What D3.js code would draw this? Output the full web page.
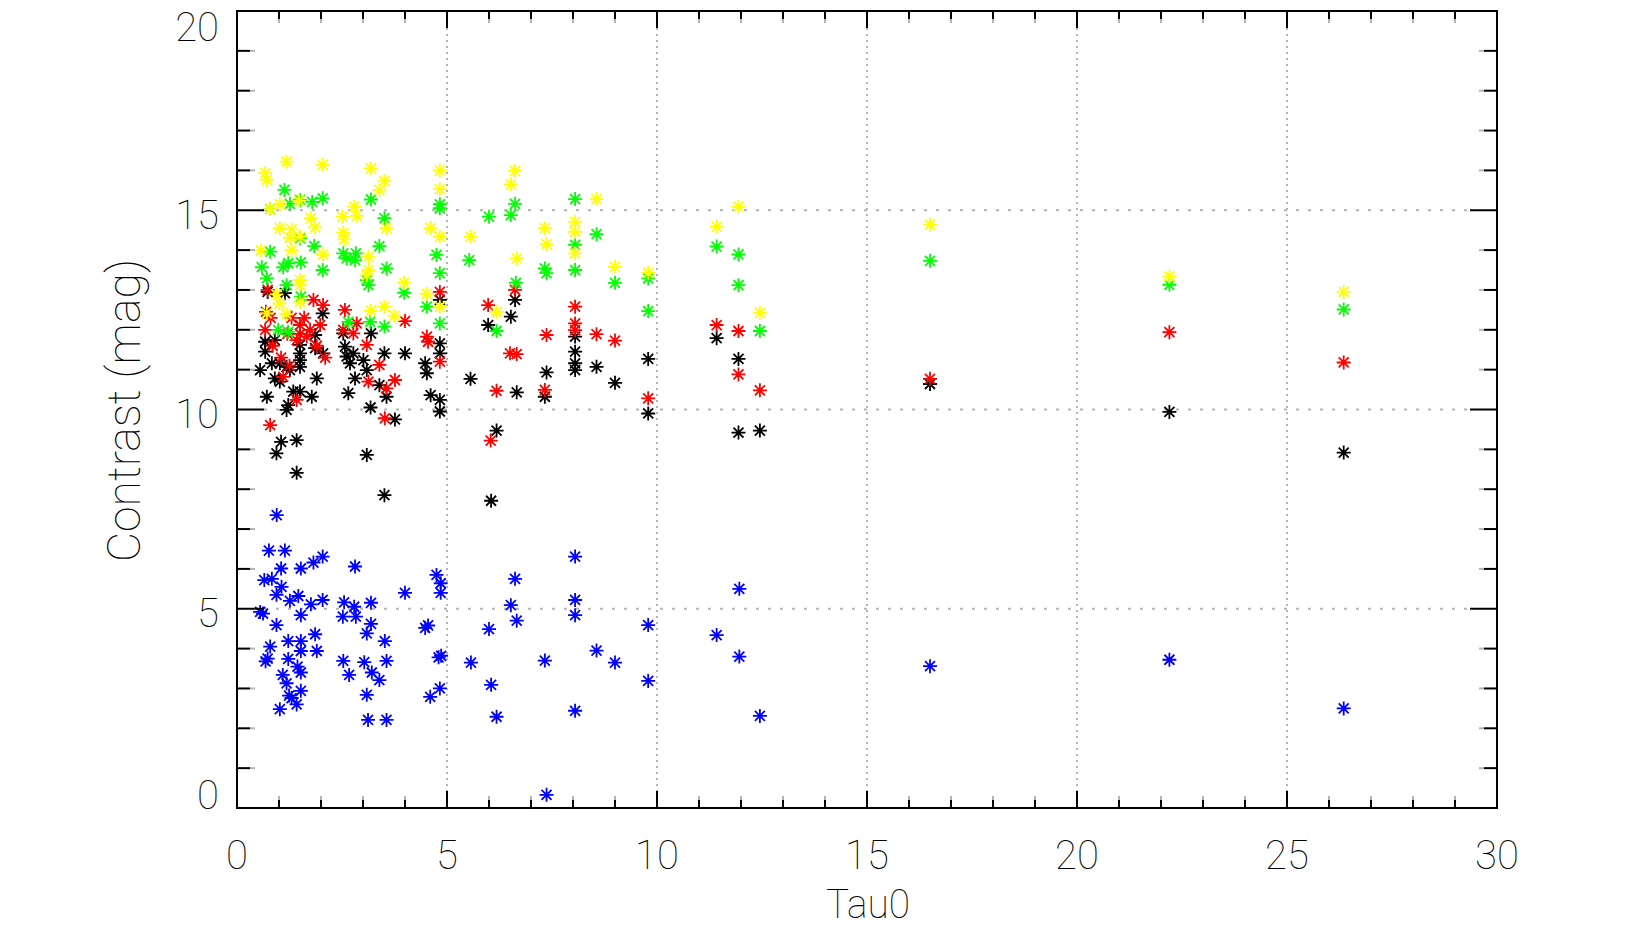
<!DOCTYPE html>
<html>
<head>
<meta charset="utf-8">
<script src="https://cdn.jsdelivr.net/npm/d3@7/dist/d3.min.js"></script>
<style>
  html, body { margin: 0; padding: 0; background: #fff; }
  svg { display: block; }
  .lbl { font-family: Roboto, "Liberation Sans", sans-serif; font-weight: 100; fill: #000; }
</style>
</head>
<body>
<svg id="chart" width="1628" height="928"></svg>
<script>
// ---------------- data (Tau0, Contrast) per series ----------------
const xTickLabels = ["0", "5", "10", "15", "20", "25", "30"];
const yTickLabels = ["0", "5", "10", "15", "20"];
const xTitle = "Tau0";
const yTitle = "Contrast (mag)";

const blackPts = [
  [0.55,10.99],[0.67,11.7],[0.67,11.45],[0.71,10.32],[0.73,12.95],[0.83,11.16],[0.9,11.74],[0.9,10.78],
  [0.94,8.9],[1.02,11.16],[1.02,10.7],[1.05,9.19],[1.14,12.92],[1.18,11.07],[1.18,9.99],[1.22,10.11],
  [1.26,10.99],[1.34,10.45],[1.42,9.23],[1.42,8.41],[1.5,11.62],[1.5,11.41],[1.5,11.24],[1.5,11.07],
  [1.5,10.45],[1.78,10.32],[1.86,11.87],[1.86,11.54],[1.9,10.78],[2.04,12.41],[2.05,11.41],[2.53,11.91],
  [2.57,11.58],[2.61,11.33],[2.65,10.41],[2.69,11.16],[2.77,11.41],[2.81,10.78],[3.01,11.24],[3.09,10.99],
  [3.09,8.86],[3.18,10.05],[3.19,11.91],[3.39,10.61],[3.51,11.41],[3.51,7.85],[3.56,10.32],[3.76,9.75],
  [4.0,11.41],[4.48,11.16],[4.52,10.91],[4.61,10.36],[4.83,12.75],[4.83,11.66],[4.83,11.41],[4.83,10.24],
  [4.83,9.95],[5.56,10.77],[5.98,12.12],[6.05,7.71],[6.18,9.47],[6.52,12.33],[6.62,12.75],[6.66,10.43],
  [7.33,10.32],[7.37,10.93],[8.05,11.83],[8.05,11.45],[8.05,11.16],[8.05,10.99],[8.56,11.07],[9.0,10.67],
  [9.79,11.27],[9.79,9.90],[11.42,11.79],[11.94,11.27],[11.94,9.42],[12.45,9.47],[16.5,10.64],[22.2,9.94],
  [26.35,8.92]
];
const redPts = [
  [0.67,12.0],[0.69,12.45],[0.73,13.0],[0.79,9.61],[0.8,12.3],[0.85,11.6],[1.05,11.3],[1.1,10.82],
  [1.2,11.9],[1.25,11.1],[1.3,12.3],[1.42,10.24],[1.42,11.74],[1.5,12.12],[1.5,11.9],[1.6,12.3],
  [1.66,11.83],[1.74,12.0],[1.82,12.75],[1.9,11.6],[1.98,12.12],[2.05,12.62],[2.1,11.3],[2.53,12.0],
  [2.57,12.5],[2.77,11.91],[2.85,12.16],[3.09,11.62],[3.13,10.7],[3.39,11.12],[3.52,9.78],[3.56,10.53],
  [3.76,10.74],[4.0,12.22],[4.52,11.83],[4.55,11.7],[4.83,12.95],[4.83,11.2],[5.98,12.62],[6.04,9.22],
  [6.18,10.47],[6.5,11.41],[6.62,13.0],[6.66,11.39],[7.33,10.49],[7.37,11.87],[8.05,12.58],[8.05,12.16],
  [8.05,11.99],[8.56,11.89],[9.0,11.73],[9.79,10.28],[11.42,12.12],[11.94,11.97],[11.94,10.88],[12.45,10.48],
  [16.5,10.77],[22.2,11.94],[26.35,11.18]
];
const greenPts = [
  [0.59,13.57],[0.71,13.29],[0.79,15.03],[0.79,13.96],[0.98,12.0],[1.1,13.57],[1.13,15.51],[1.18,13.12],
  [1.22,13.67],[1.22,11.95],[1.26,15.16],[1.5,15.26],[1.5,14.3],[1.52,13.69],[1.52,12.83],[1.79,15.21],
  [1.84,14.1],[2.04,15.3],[2.04,13.5],[2.53,13.92],[2.61,13.79],[2.65,12.2],[2.81,13.75],[2.83,13.92],
  [3.09,13.25],[3.13,13.12],[3.17,12.2],[3.19,15.27],[3.39,14.1],[3.51,14.8],[3.51,12.08],[3.56,13.54],
  [3.98,12.93],[4.52,12.58],[4.75,13.88],[4.83,15.05],[4.83,15.15],[4.83,13.42],[4.83,12.16],[5.53,13.75],
  [6.0,14.84],[6.18,11.97],[6.52,14.88],[6.62,15.16],[6.64,13.18],[7.33,13.54],[7.37,13.42],[8.05,15.28],
  [8.05,14.13],[8.05,13.5],[8.56,14.40],[9.0,13.18],[9.79,13.29],[9.79,12.47],[11.42,14.09],[11.94,13.89],
  [11.94,13.12],[12.45,11.97],[16.5,13.73],[22.2,13.13],[26.35,12.51]
];
const yellowPts = [
  [0.57,13.99],[0.67,15.93],[0.71,15.76],[0.71,12.41],[0.79,15.03],[0.94,12.89],[1.01,12.66],[1.02,15.15],
  [1.02,14.55],[1.18,16.22],[1.18,12.39],[1.26,14.31],[1.30,14.52],[1.30,14.0],[1.48,15.24],[1.5,14.34],
  [1.5,13.25],[1.5,13.12],[1.5,12.7],[1.76,14.8],[1.86,14.57],[2.04,16.14],[2.05,13.89],[2.51,14.84],
  [2.53,14.44],[2.55,14.27],[2.79,15.09],[2.85,14.86],[3.09,13.37],[3.13,13.83],[3.13,13.5],[3.19,16.05],
  [3.19,12.48],[3.39,15.51],[3.51,15.73],[3.51,12.58],[3.56,14.55],[3.75,12.35],[3.98,13.18],[4.52,12.9],
  [4.61,14.55],[4.83,16.0],[4.83,15.53],[4.83,14.34],[4.83,12.58],[5.56,14.34],[6.18,12.45],[6.52,15.65],
  [6.62,15.99],[6.66,13.79],[7.33,14.55],[7.37,14.15],[8.05,14.71],[8.05,14.46],[8.05,13.92],[8.56,15.28],
  [9.0,13.58],[9.79,13.43],[11.42,14.59],[11.94,15.09],[12.45,12.43],[16.5,14.64],[22.2,13.34],[26.35,12.95]
];
const bluePts = [
  [0.945,7.35],[0.76,6.46],[1.14,6.46],[2.04,6.31],[1.82,6.16],[1.05,6.01],[1.52,6.01],[2.81,6.06],
  [0.65,5.72],[0.83,5.75],[1.06,5.55],[0.94,5.35],[1.46,5.32],[1.26,5.20],[1.76,5.11],[2.04,5.22],
  [4.75,5.85],[4.85,5.64],[4.85,5.40],[4.0,5.40],[2.55,5.16],[2.79,5.05],[3.19,5.15],[0.55,4.92],
  [0.62,4.88],[1.52,4.84],[2.52,4.80],[2.83,4.80],[0.94,4.59],[3.19,4.62],[4.48,4.52],[4.55,4.58],
  [3.09,4.38],[1.86,4.36],[3.52,4.19],[1.22,4.19],[1.52,4.19],[0.79,4.05],[1.52,3.94],[1.90,3.94],
  [0.68,3.68],[0.73,3.75],[1.22,3.74],[2.53,3.69],[3.03,3.66],[3.56,3.69],[4.8,3.78],[4.86,3.82],
  [1.44,3.55],[1.52,3.40],[1.09,3.34],[2.67,3.34],[3.21,3.40],[3.39,3.21],[1.18,3.13],[1.52,2.94],
  [1.24,2.82],[1.3,2.76],[3.09,2.84],[4.83,3.00],[4.6,2.79],[1.42,2.60],[1.02,2.48],[3.12,2.21],
  [3.56,2.21],[5.57,3.65],[6.0,4.49],[6.05,3.09],[6.18,2.29],[6.52,5.09],[6.62,5.75],[6.66,4.70],
  [7.33,3.70],[7.37,0.33],[8.05,6.31],[8.05,5.22],[8.05,4.84],[8.05,2.44],[8.56,3.95],[9.0,3.65],
  [9.79,4.59],[9.79,3.19],[11.42,4.34],[11.96,5.50],[11.96,3.80],[12.45,2.31],[16.5,3.56],[22.2,3.72],
  [26.35,2.50]
];

const seriesList = [
  { name: "black",  color: "#000000", pts: blackPts },
  { name: "red",    color: "#ff0000", pts: redPts },
  { name: "green",  color: "#00ff00", pts: greenPts },
  { name: "yellow", color: "#ffff00", pts: yellowPts },
  { name: "blue",   color: "#0000ff", pts: bluePts }
];

// ---------------- layout ----------------
const svg = d3.select("#chart");
const L = 237, R = 1497, T = 11, B = 808;
const x = d3.scaleLinear().domain([0, 30]).range([L, R]);
const y = d3.scaleLinear().domain([0, 20]).range([B, T]);

const xMajor = d3.range(0, 31, 5);
const xMinor = d3.range(0, 31, 1).filter(v => v % 5 !== 0);
const yMajor = d3.range(0, 21, 5);
const yMinor = d3.range(0, 21, 1).filter(v => v % 5 !== 0);

const grid = svg.append("g").attr("stroke", "#b4b4b4").attr("stroke-width", 2);
grid.selectAll("line.vg").data(xMajor.filter(v => v > 0 && v < 30)).enter().append("line")
  .attr("x1", d => x(d)).attr("x2", d => x(d))
  .attr("y1", T + 17).attr("y2", B - 17)
  .attr("stroke-dasharray", "2,4");
grid.selectAll("line.hg").data(yMajor.filter(v => v > 0 && v < 20)).enter().append("line")
  .attr("y1", d => y(d)).attr("y2", d => y(d))
  .attr("x1", L + 27).attr("x2", R - 27)
  .attr("stroke-dasharray", "3,9");

// ---------------- points ----------------
const star = "M-7,0L7,0M0,-7L0,7M-5,-5L5,5M-5,5L5,-5";
seriesList.forEach(s => {
  svg.append("g").attr("class", "series-" + s.name)
    .selectAll("path").data(s.pts).enter().append("path")
    .attr("d", star)
    .attr("transform", d => `translate(${x(d[0])},${y(d[1])})`)
    .attr("fill", "none")
    .attr("stroke", s.color)
    .attr("stroke-width", 1.8);
});

// ---------------- axes frame and ticks ----------------
const ax = svg.append("g").attr("stroke", "#000").attr("stroke-width", 2).attr("fill", "none");
ax.append("rect").attr("x", L).attr("y", T).attr("width", R - L).attr("height", B - T);

function hTick(g, xs, y0, dir, len, grayLen) {
  xs.forEach(v => {
    const px = x(v);
    g.append("line").attr("x1", px).attr("x2", px).attr("y1", y0).attr("y2", y0 + dir * len);
    if (grayLen) g.append("line").attr("x1", px).attr("x2", px)
      .attr("y1", y0 + dir * len).attr("y2", y0 + dir * (len + grayLen)).attr("stroke", "#b4b4b4");
  });
}
function vTick(g, ys, x0, dir, len, grayLen) {
  ys.forEach(v => {
    const py = y(v);
    g.append("line").attr("y1", py).attr("y2", py).attr("x1", x0).attr("x2", x0 + dir * len);
    if (grayLen) g.append("line").attr("y1", py).attr("y2", py)
      .attr("x1", x0 + dir * len).attr("x2", x0 + dir * (len + grayLen)).attr("stroke", "#b4b4b4");
  });
}
hTick(ax, xMajor, B, -1, 17, 0);
hTick(ax, xMinor, B, -1, 8, 4);
hTick(ax, xMajor, T, 1, 17, 0);
hTick(ax, xMinor, T, 1, 8, 4);
vTick(ax, yMajor, L, 1, 27, 0);
vTick(ax, yMinor, L, 1, 13, 5);
vTick(ax, yMajor, R, -1, 27, 0);
vTick(ax, yMinor, R, -1, 13, 5);

// ---------------- labels ----------------
svg.append("g").selectAll("text").data(xMajor).enter().append("text")
  .attr("class", "lbl")
  .attr("x", d => x(d)).attr("y", 869)
  .attr("text-anchor", "middle")
  .attr("font-size", 40)
  .text((d, i) => xTickLabels[i]);

svg.append("g").selectAll("text").data(yMajor).enter().append("text")
  .attr("class", "lbl")
  .attr("x", 219)
  .attr("y", d => d === 0 ? B + 1 : (d === 20 ? T + 30 : y(d) + 18.5))
  .attr("text-anchor", "end")
  .attr("font-size", 40)
  .text((d, i) => yTickLabels[i]);

svg.append("text").attr("class", "lbl")
  .attr("x", (L + R) / 2 + 1).attr("y", 918)
  .attr("text-anchor", "middle")
  .attr("font-size", 40)
  .attr("textLength", 84).attr("lengthAdjust", "spacingAndGlyphs")
  .text(xTitle);

svg.append("text").attr("class", "lbl")
  .attr("transform", `translate(140,${(T + B) / 2 + 1}) rotate(-90)`)
  .attr("text-anchor", "middle")
  .attr("font-size", 46)
  .attr("textLength", 303).attr("lengthAdjust", "spacingAndGlyphs")
  .text(yTitle);
</script>
</body>
</html>
